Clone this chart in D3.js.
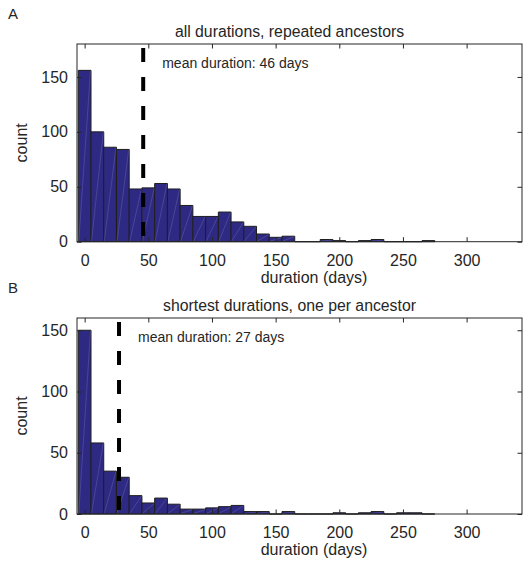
<!DOCTYPE html>
<html>
<head>
<meta charset="utf-8">
<script src="https://cdn.jsdelivr.net/npm/d3@7"></script>
<style>
  body { margin: 0; background: #fff; }
  svg text { font-family: "Liberation Sans", Arial, Helvetica, sans-serif; fill: #262626; }
</style>
</head>
<body>
<svg width="525" height="562"></svg>
<script>
// histogram bin centres (days), 10-day bins
var binCenters = [0, 10, 20, 30, 40, 50, 60, 70, 80, 90, 100, 110, 120, 130,
                  140, 150, 160, 170, 180, 190, 200, 210, 220, 230, 240, 250, 260, 270];
var binWidth = 10;

// counts
var countsA = [156, 100, 86, 84, 48, 49, 53, 48, 33, 23, 23, 27, 18, 14,
               7, 4, 5, 0, 0, 2, 1, 0, 1, 2, 0, 0, 0, 1];
var countsB = [150, 58, 35, 30, 15, 9, 13, 8, 4, 4, 5, 6, 7, 2,
               2, 0, 2, 0, 0, 0, 1, 0, 1, 2, 0, 1, 1, 0];

var xTicks = [0, 50, 100, 150, 200, 250, 300];
var yTicks = [0, 50, 100, 150];

var panels = [
  { letter: "A", title: "all durations, repeated ancestors", counts: countsA, mean: 46,
    yMax: 180, top: 44, bottom: 241.7 },
  { letter: "B", title: "shortest durations, one per ancestor", counts: countsB, mean: 27,
    yMax: 160, top: 318, bottom: 514 }
];

var svg = d3.select("svg");
var left = 77, right = 522;
var barFill = "#2e2a84";
var axisColor = "#262626";
var tickLen = 4.5;

panels.forEach(function(p) {
  var x = d3.scaleLinear().domain([-6, 343.5]).range([left, right]);
  var y = d3.scaleLinear().domain([0, p.yMax]).range([p.bottom, p.top]);
  var g = svg.append("g");

  // bars, as paths so empty bins still show as a flat edge
  var bars = binCenters.map(function(c, i) { return { c: c, n: p.counts[i] }; });
  g.selectAll("path.bar")
    .data(bars)
    .enter().append("path")
    .attr("class", "bar")
    .attr("d", function(d) {
      var x0 = x(d.c - binWidth / 2), x1 = x(d.c + binWidth / 2);
      return "M" + x0 + "," + y(0) + "V" + y(d.n) + "H" + x1 + "V" + y(0) + "Z";
    })
    .attr("fill", barFill)
    .attr("stroke", "#1e1e1e")
    .attr("stroke-width", 1);

  // faint diagonal seams that the exported bars show
  g.selectAll("line.seam")
    .data(bars.filter(function(d) { return d.n > 1; }))
    .enter().append("line")
    .attr("x1", function(d) { return x(d.c - binWidth / 2) + 0.5; })
    .attr("y1", y(0) - 0.5)
    .attr("x2", function(d) { return x(d.c + binWidth / 2) - 0.5; })
    .attr("y2", function(d) { return y(d.n) + 0.5; })
    .attr("stroke", "rgba(255,255,255,0.22)")
    .attr("stroke-width", 0.6);

  // box
  g.append("rect")
    .attr("x", left).attr("y", p.top)
    .attr("width", right - left).attr("height", p.bottom - p.top)
    .attr("fill", "none").attr("stroke", axisColor).attr("stroke-width", 1);

  // inward ticks on all four sides
  var bottomAxis = g.append("g")
    .attr("transform", "translate(0," + p.bottom + ")")
    .call(d3.axisBottom(x).tickValues(xTicks).tickSizeInner(-tickLen).tickSizeOuter(0).tickPadding(13));
  var topAxis = g.append("g")
    .attr("transform", "translate(0," + p.top + ")")
    .call(d3.axisTop(x).tickValues(xTicks).tickSizeInner(-tickLen).tickSizeOuter(0).tickFormat(""));
  var leftAxis = g.append("g")
    .attr("transform", "translate(" + left + ",0)")
    .call(d3.axisLeft(y).tickValues(yTicks).tickSizeInner(-tickLen).tickSizeOuter(0).tickPadding(9));
  var rightAxis = g.append("g")
    .attr("transform", "translate(" + right + ",0)")
    .call(d3.axisRight(y).tickValues(yTicks).tickSizeInner(-tickLen).tickSizeOuter(0).tickFormat(""));

  [bottomAxis, topAxis, leftAxis, rightAxis].forEach(function(a) {
    a.select(".domain").remove();
    a.selectAll(".tick line").attr("stroke", axisColor);
    a.selectAll(".tick text")
      .attr("font-size", 16)
      .attr("font-family", "'Liberation Sans', Arial, Helvetica, sans-serif")
      .attr("fill", "#383838");
  });

  // mean line
  g.append("line")
    .attr("x1", x(p.mean)).attr("x2", x(p.mean))
    .attr("y1", p.top + 4).attr("y2", p.bottom)
    .attr("stroke", "#000")
    .attr("stroke-width", 4)
    .attr("stroke-dasharray", "14,15");

  g.append("text")
    .attr("x", x(p.mean) + 19)
    .attr("y", p.top + 24)
    .attr("font-size", 14)
    .text("mean duration: " + p.mean + " days");

  // title, axis labels, panel letter
  g.append("text")
    .attr("x", 289.5).attr("y", p.top - 7)
    .attr("text-anchor", "middle")
    .attr("font-size", 15.8)
    .text(p.title);

  g.append("text")
    .attr("x", 314).attr("y", p.bottom + 41)
    .attr("text-anchor", "middle")
    .attr("font-size", 16)
    .attr("fill", "#383838")
    .text("duration (days)");

  g.append("text")
    .attr("transform", "translate(" + 27 + "," + ((p.top + p.bottom) / 2) + ") rotate(-90)")
    .attr("text-anchor", "middle")
    .attr("font-size", 16)
    .attr("fill", "#383838")
    .text("count");

  g.append("text")
    .attr("x", 8).attr("y", p.top - 25)
    .attr("font-size", 15)
    .text(p.letter);
});
</script>
</body>
</html>
